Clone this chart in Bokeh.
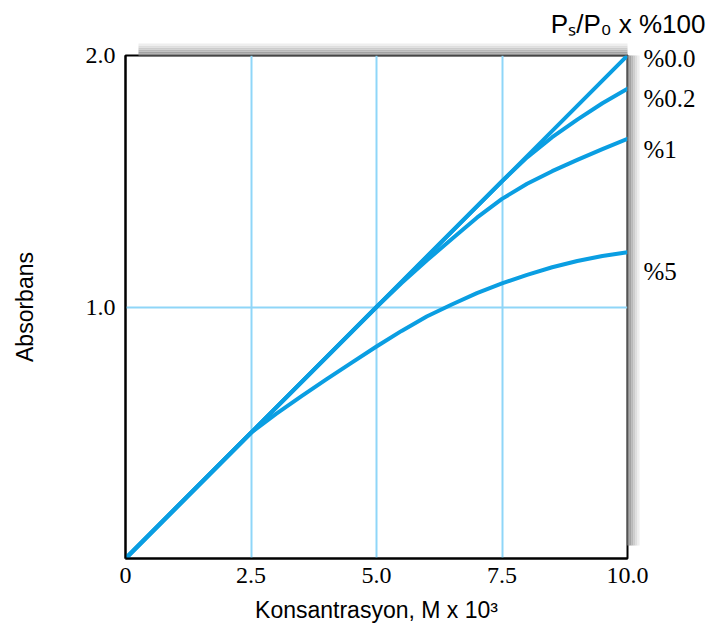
import math
from bokeh.plotting import figure
from bokeh.models import Range1d, FixedTicker, LinearAxis
from bokeh.embed import file_html
from bokeh.resources import INLINE

# ---------------- data ----------------
conc_00 = [0, 10]
abs_00 = [0, 2.0]

conc_02 = [0, 7.5, 8, 8.5, 9, 9.5, 10]
abs_02 = [0, 1.5, 1.595, 1.675, 1.745, 1.81, 1.868]

conc_1 = [0, 5, 5.5, 6, 6.5, 7, 7.5, 8, 8.5, 9, 9.5, 10]
abs_1 = [0, 1.0, 1.095, 1.185, 1.27, 1.355, 1.43, 1.49, 1.54, 1.585, 1.628, 1.669]

conc_5 = [0, 2.5, 3, 3.5, 4, 4.5, 5, 5.5, 6, 6.5, 7, 7.5, 8, 8.5, 9, 9.5, 10]
abs_5 = [0, 0.5, 0.575, 0.645, 0.712, 0.778, 0.843, 0.905, 0.962, 1.01, 1.055,
         1.094, 1.128, 1.158, 1.183, 1.203, 1.218]

curve_labels = ["%0.0", "%0.2", "%1", "%5"]
x_ticks = [0, 2.5, 5, 7.5, 10]
x_tick_labels = ["0", "2.5", "5.0", "7.5", "10.0"]
y_ticks = [1, 2]
y_tick_labels = ["1.0", "2.0"]
x_label = "Konsantrasyon, M x 10³"
y_label = "Absorbans"
title_text = "Pₛ/P₀ x %100"

# ---------------- layout ----------------
W, H = 708, 633
L, R, T, B = 125, 81, 55, 75
FW, FH = W - L - R, H - T - B
X0, X1, Y0, Y1 = 0, 10, 0, 2


def px2x(px):
    return X0 + (px - L) / FW * (X1 - X0)


def py2y(py):
    return Y0 + (H - B - py) / FH * (Y1 - Y0)


CURVE = "#0a9ee2"
GRID = "#8fd6f8"
SERIF = "Liberation Serif"
SANS = "Liberation Sans"

p = figure(width=W, height=H, output_backend="svg", toolbar_location=None,
           x_range=Range1d(X0, X1), y_range=Range1d(Y0, Y1))
p.min_border_left = L
p.min_border_right = R
p.min_border_top = T
p.min_border_bottom = B
p.background_fill_color = "white"
p.border_fill_color = "white"
p.outline_line_color = "black"
p.outline_line_width = 2

xa = p.below[0]
ya = p.left[0]


def plain_axis(size, color, width, bounds):
    ax = LinearAxis(bounds=bounds)
    ax.ticker = FixedTicker(ticks=[1])
    ax.major_label_text_font_size = "0px"
    ax.major_label_text_color = None
    ax.major_label_standoff = 0
    ax.major_tick_line_color = None
    ax.minor_tick_line_color = None
    ax.major_tick_out = size
    ax.major_tick_in = 0
    ax.minor_tick_out = 0
    ax.axis_line_color = color
    ax.axis_line_width = width
    return ax


# shadow: stacked thin axes above and to the right of the frame
shades = ["#8c8c8c", "#a2a2a2", "#b8b8b8", "#cccccc", "#dedede", "#eeeeee"]
p.add_layout(plain_axis(1, None, 1, (Y0, Y1)), "right")
p.add_layout(plain_axis(1, None, 1, (X0, X1)), "above")
for c in shades:
    p.add_layout(plain_axis(2, c, 2.2, (py2y(545), py2y(43))), "right")
    p.add_layout(plain_axis(2, c, 2.2, (px2x(138), px2x(641))), "above")

# curve labels as a right-side axis
label_baselines_px = [67, 106, 158, 279]
label_ticks = [round(py2y(b - 8.5), 4) for b in label_baselines_px]
rax = LinearAxis()
rax.ticker = FixedTicker(ticks=label_ticks)
rax.major_label_overrides = {t: s for t, s in zip(label_ticks, curve_labels)}
rax.major_label_text_font = SERIF
rax.major_label_text_font_size = "25px"
rax.major_label_text_color = "black"
rax.major_label_standoff = 3
rax.major_tick_line_color = None
rax.minor_tick_line_color = None
rax.major_tick_out = 0
rax.major_tick_in = 0
rax.axis_line_color = None
p.add_layout(rax, "right")

# main axes
for ax in (xa, ya):
    ax.axis_line_color = "black"
    ax.axis_line_width = 2
    ax.major_tick_line_color = None
    ax.minor_tick_line_color = None
    ax.major_tick_out = 0
    ax.major_tick_in = 0
    ax.major_label_text_font = SERIF
    ax.major_label_text_font_size = "24px"
    ax.major_label_text_color = "black"
    ax.axis_label_text_font = SANS
    ax.axis_label_text_font_size = "23px"
    ax.axis_label_text_font_style = "normal"
    ax.axis_label_text_color = "black"

xa.ticker = FixedTicker(ticks=x_ticks)
xa.major_label_overrides = {t: s for t, s in zip(x_ticks, x_tick_labels)}
xa.major_label_standoff = 9
xa.axis_label = x_label
xa.axis_label_standoff = 11
ya.ticker = FixedTicker(ticks=y_ticks)
ya.major_label_overrides = {t: s for t, s in zip(y_ticks, y_tick_labels)}
ya.major_label_standoff = 10
ya.axis_label = y_label
ya.axis_label_standoff = 45

# grid
p.xgrid.ticker = FixedTicker(ticks=x_ticks[1:-1])
p.ygrid.ticker = FixedTicker(ticks=y_ticks[:-1])
p.xgrid.grid_line_color = GRID
p.ygrid.grid_line_color = GRID
p.xgrid.grid_line_width = 2
p.ygrid.grid_line_width = 2

# title
p.title.text = title_text
p.title.align = "right"
p.title.offset = -78
p.title.text_font = SANS
p.title.text_font_size = "26px"
p.title.text_font_style = "normal"
p.title.text_color = "black"
p.title.standoff = 7

# curves
for xs, ys in ((conc_00, abs_00), (conc_02, abs_02), (conc_1, abs_1), (conc_5, abs_5)):
    p.line(xs, ys, line_color=CURVE, line_width=4, line_cap="round", line_join="round")

open("out.html", "w").write(file_html(p, INLINE))
